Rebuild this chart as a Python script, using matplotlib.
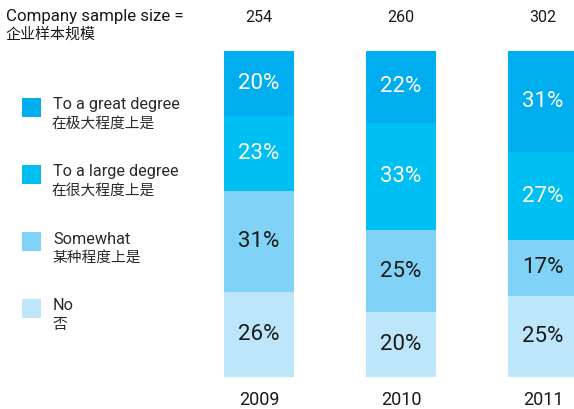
import matplotlib
matplotlib.use("Agg")
import matplotlib.pyplot as plt
from matplotlib.patches import Rectangle
import numpy as np

plt.rcParams['font.family'] = ['Roboto', 'Noto Sans CJK SC', 'DejaVu Sans']

years = ['2009', '2010', '2011']
sample_sizes = [254, 260, 302]

# stacked from bottom to top
cat_en = ['No', 'Somewhat', 'To a large degree', 'To a great degree']
cat_zh = ['否', '某种程度上是', '在很大程度上是', '在极大程度上是']
no_vals = [26, 20, 25]
somewhat_vals = [31, 25, 17]
large_vals = [23, 33, 27]
great_vals = [20, 22, 31]
series = [no_vals, somewhat_vals, large_vals, great_vals]

colors = ['#bde6fa', '#80d3f6', '#00bff2', '#00adee']
text_colors = ['#1a1a1a', '#1a1a1a', 'white', 'white']
cjk = ['Noto Sans CJK SC', 'DejaVu Sans']

W, H = 574, 409
fig = plt.figure(figsize=(W / 100, H / 100), dpi=100)
ax = fig.add_axes([188 / W, 32 / H, 1 - 188 / W, 326 / H])
ax.set_xlim(-0.5, (574 - 259) / 142)
ax.set_ylim(0, 100)
ax.axis('off')

x = np.arange(len(years))
bottom = np.zeros(len(years))
for vals, col, tc in zip(series, colors, text_colors):
    ax.bar(x, vals, width=0.493, bottom=bottom, color=col, linewidth=0)
    for xi, b, v in zip(x, bottom, vals):
        ax.text(xi, b + v / 2, f'{v}%', ha='center', va='center',
                fontsize=16, color=tc)
    bottom += vals

# years below, sample sizes on the header row
for xi, yr, n in zip(x, years, sample_sizes):
    ax.text(xi, -7.2, yr, ha='center', va='center', fontsize=13,
            color='#1a1a1a', clip_on=False)
    ax.text(xi, 110.4, str(n), ha='center', va='center', fontsize=11.5,
            color='#1a1a1a', clip_on=False)

fig.text(6 / W, 1 - 17 / H, 'Company sample size =', fontsize=12.2,
         color='#1a1a1a', va='center', ha='left')
fig.text(5 / W, 1 - 35 / H, '企业样本规模', fontsize=10.8,
         color='#1a1a1a', va='center', ha='left', family=cjk)

# legend, top item first
for i, k in enumerate(range(3, -1, -1)):
    top = 98 + i * 67
    fig.add_artist(Rectangle((22 / W, 1 - (top + 19) / H), 19 / W, 19 / H,
                             transform=fig.transFigure, color=colors[k], lw=0))
    fig.text(53 / W, 1 - (top + 7) / H, cat_en[k], fontsize=11.7,
             color='#2a2a2a', va='center', ha='left')
    fig.text(52 / W, 1 - (top + 26) / H, cat_zh[k], fontsize=10.6,
             color='#2a2a2a', va='center', ha='left', family=cjk)

fig.savefig('out.png', dpi=100)
